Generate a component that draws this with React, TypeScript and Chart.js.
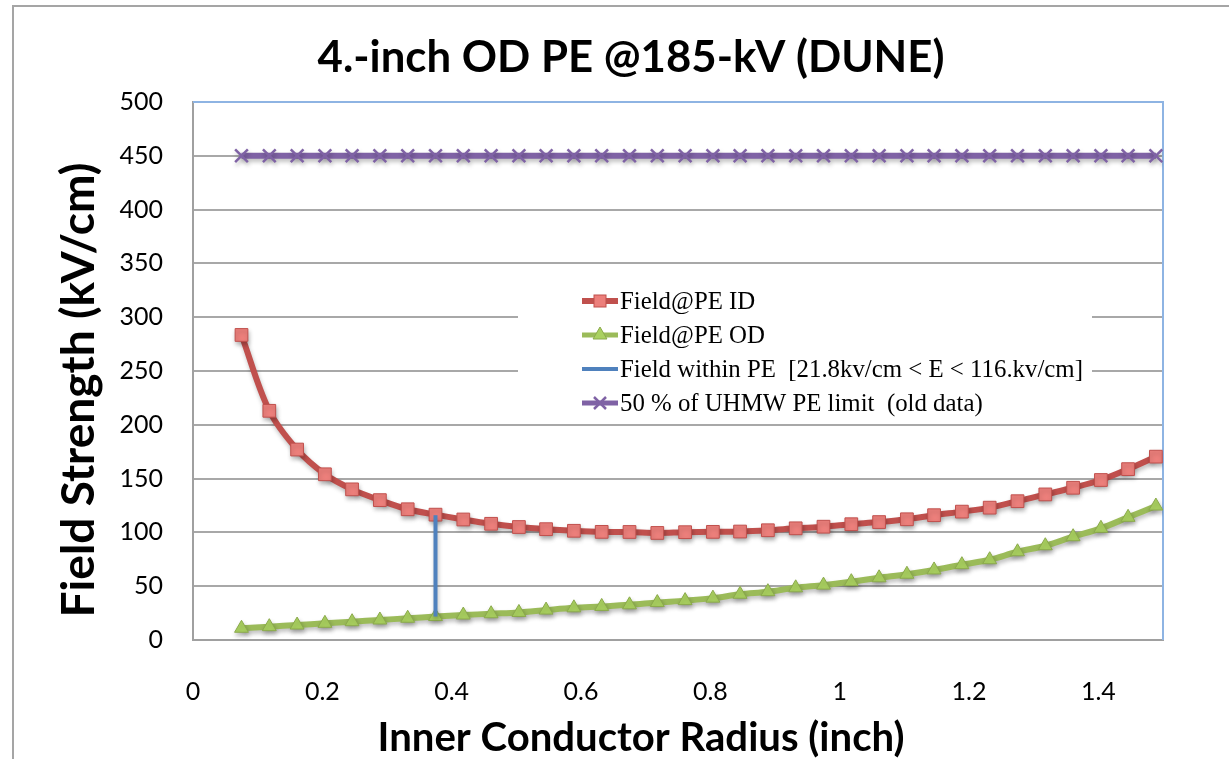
import React, { useEffect, useRef } from 'react';
import { Chart, registerables } from 'chart.js';

Chart.register(...registerables);

// ---------- data ----------
const chartTitle = '4.-inch OD PE @185-kV (DUNE)';
const xAxisTitle = 'Inner Conductor Radius (inch)';
const yAxisTitle = 'Field Strength (kV/cm)';

const seriesLabels = [
  'Field@PE ID',
  'Field@PE OD',
  'Field within PE  [21.8kv/cm < E < 116.kv/cm]',
  '50 % of UHMW PE limit  (old data)',
];

const radius = [
  0.075, 0.118, 0.161, 0.204, 0.246, 0.289, 0.332, 0.375, 0.418, 0.461, 0.504, 0.546,
  0.589, 0.632, 0.675, 0.718, 0.761, 0.804, 0.846, 0.889, 0.932, 0.975, 1.018, 1.061,
  1.104, 1.146, 1.189, 1.232, 1.275, 1.318, 1.361, 1.404, 1.446, 1.489,
];

const fieldAtID = [
  283.5, 213, 177, 154, 140, 130, 121.5, 116.5, 112, 108, 105, 103,
  101.5, 100.5, 100.4, 99.5, 100.2, 100.5, 100.8, 102, 103.8, 105.3, 107.6, 109.6,
  112.2, 116, 119.3, 123, 129, 135.3, 141.5, 148.7, 158.8, 170.4,
];

const fieldAtOD = [
  10.9, 12.4, 13.9, 15.5, 17, 18.6, 20.2, 21.8, 23.2, 24.4, 25.6, 27.8,
  29.9, 31.2, 32.7, 34.8, 36.6, 38.9, 42.5, 44.9, 48.5, 51, 54.2, 57.8,
  61.1, 65.1, 70, 74.6, 82, 87.6, 96, 103.8, 114, 124.5,
];

const withinX = [0.375, 0.375];
const withinY = [21.8, 116];

const uhmwLimit = [
  450, 450, 450, 450, 450, 450, 450, 450, 450, 450, 450, 450,
  450, 450, 450, 450, 450, 450, 450, 450, 450, 450, 450, 450,
  450, 450, 450, 450, 450, 450, 450, 450, 450, 450,
];

const xTickValues = [0, 0.2, 0.4, 0.6, 0.8, 1, 1.2, 1.4];
const xTickLabels = ['0', '0.2', '0.4', '0.6', '0.8', '1', '1.2', '1.4'];
const yTickValues = [0, 50, 100, 150, 200, 250, 300, 350, 400, 450, 500];
const yTickLabels = ['0', '50', '100', '150', '200', '250', '300', '350', '400', '450', '500'];

// ---------- styles ----------
const RED = '#C0504D';
const RED_FILL = '#EC7F7B';
const GREEN = '#9BBB59';
const GREEN_FILL = '#AAD160';
const GREEN_EDGE = '#8BAA4B';
const BLUE = '#4F81BD';
const PURPLE = '#7F62A5';
const GRID = '#a8a8a8';
const AXIS = '#a0a0a0';
const FRAME_BLUE = '#8EB4E3';
const TITLE_FONT = 'Lato';
const LEGEND_FONT = '"Liberation Serif", "Times New Roman", serif';

function fitSize(ctx: CanvasRenderingContext2D, text: string, font: (s: number) => string, target: number) {
  ctx.font = font(40);
  const w = ctx.measureText(text).width;
  return (40 * target) / w;
}

function drawMarker(ctx: CanvasRenderingContext2D, kind: string, x: number, y: number) {
  ctx.save();
  if (kind === 'rect') {
    const s = 12;
    ctx.fillStyle = RED_FILL;
    ctx.strokeStyle = RED;
    ctx.lineWidth = 1;
    ctx.fillRect(x - s / 2, y - s / 2, s, s);
    ctx.strokeRect(x - s / 2, y - s / 2, s, s);
  } else if (kind === 'triangle') {
    const r = 8;
    ctx.fillStyle = GREEN_FILL;
    ctx.strokeStyle = GREEN_EDGE;
    ctx.lineWidth = 1;
    ctx.beginPath();
    ctx.moveTo(x, y - r);
    ctx.lineTo(x + r * 0.866, y + r * 0.5);
    ctx.lineTo(x - r * 0.866, y + r * 0.5);
    ctx.closePath();
    ctx.fill();
    ctx.stroke();
  } else if (kind === 'cross') {
    const r = 6;
    ctx.strokeStyle = PURPLE;
    ctx.lineWidth = 2.5;
    ctx.beginPath();
    ctx.moveTo(x - r, y - r);
    ctx.lineTo(x + r, y + r);
    ctx.moveTo(x - r, y + r);
    ctx.lineTo(x + r, y - r);
    ctx.stroke();
  }
  ctx.restore();
}

const decorPlugin = {
  id: 'decor',
  beforeDraw(chart: any) {
    const ctx: CanvasRenderingContext2D = chart.ctx;
    ctx.save();
    ctx.fillStyle = '#ffffff';
    ctx.fillRect(0, 0, chart.width, chart.height);
    // outer frame (top and left edges visible)
    ctx.strokeStyle = '#a5a5a5';
    ctx.lineWidth = 2;
    ctx.beginPath();
    ctx.moveTo(13, chart.height);
    ctx.lineTo(13, 6);
    ctx.lineTo(chart.width, 6);
    ctx.stroke();
    ctx.restore();
  },
  beforeDatasetsDraw(chart: any) {
    const ctx: CanvasRenderingContext2D = chart.ctx;
    const a = chart.chartArea;
    ctx.save();
    // plot-area frame (top and right in light blue)
    ctx.strokeStyle = FRAME_BLUE;
    ctx.lineWidth = 2;
    ctx.beginPath();
    ctx.moveTo(a.left, a.top);
    ctx.lineTo(a.right, a.top);
    ctx.lineTo(a.right, a.bottom);
    ctx.stroke();

    // legend box
    ctx.fillStyle = '#ffffff';
    ctx.fillRect(518, 282, 574, 136);
    const size = fitSize(ctx, seriesLabels[2], (s) => `${s}px ${LEGEND_FONT}`, 463);
    ctx.font = `${size}px ${LEGEND_FONT}`;
    ctx.fillStyle = '#000000';
    ctx.textAlign = 'left';
    ctx.textBaseline = 'middle';
    const rows = [301, 335, 369, 403];
    const colors = [RED, GREEN, BLUE, PURPLE];
    const widths = [6, 5, 4, 5];
    const markers = ['rect', 'triangle', '', 'cross'];
    rows.forEach((y, i) => {
      ctx.strokeStyle = colors[i];
      ctx.lineWidth = widths[i];
      ctx.beginPath();
      ctx.moveTo(582, y);
      ctx.lineTo(618, y);
      ctx.stroke();
      if (markers[i]) drawMarker(ctx, markers[i], 600, y);
      ctx.fillStyle = '#000000';
      ctx.fillText(seriesLabels[i], 620, y + 1);
    });
    ctx.restore();
  },
  beforeDatasetDraw(chart: any) {
    const ctx: CanvasRenderingContext2D = chart.ctx;
    ctx.save();
    ctx.shadowColor = 'rgba(0,0,0,0.25)';
    ctx.shadowBlur = 4;
    ctx.shadowOffsetX = 1;
    ctx.shadowOffsetY = 3;
  },
  afterDatasetDraw(chart: any) {
    chart.ctx.restore();
  },
  afterDraw(chart: any) {
    const ctx: CanvasRenderingContext2D = chart.ctx;
    ctx.save();
    ctx.fillStyle = '#000000';
    ctx.textAlign = 'center';
    ctx.textBaseline = 'middle';
    const bold = (s: number) => `bold ${s}px ${TITLE_FONT}`;
    // chart title
    ctx.font = bold(fitSize(ctx, chartTitle, bold, 627));
    ctx.fillText(chartTitle, 631, 58);
    // x axis title
    ctx.font = bold(fitSize(ctx, xAxisTitle, bold, 527));
    ctx.fillText(xAxisTitle, 641, 738);
    // y axis title
    ctx.font = bold(fitSize(ctx, yAxisTitle, bold, 455));
    ctx.translate(79, 390);
    ctx.rotate(-Math.PI / 2);
    ctx.fillText(yAxisTitle, 0, 0);
    ctx.restore();
  },
};

const tickFont = { family: 'Lato', size: 25 };

export default function App() {
  const ref = useRef<HTMLCanvasElement | null>(null);

  useEffect(() => {
    if (!ref.current) return;
    const chart = new Chart(ref.current, {
      type: 'line',
      data: {
        datasets: [
          {
            label: seriesLabels[0],
            data: radius.map((x, i) => ({ x, y: fieldAtID[i] })),
            borderColor: RED,
            borderWidth: 6,
            tension: 0.35,
            pointStyle: 'rect',
            pointRadius: 9,
            pointBackgroundColor: RED_FILL,
            pointBorderColor: RED,
            pointBorderWidth: 1,
            order: 1,
          },
          {
            label: seriesLabels[1],
            data: radius.map((x, i) => ({ x, y: fieldAtOD[i] })),
            borderColor: GREEN,
            borderWidth: 6,
            tension: 0.35,
            pointStyle: 'triangle',
            pointRadius: 8,
            pointBackgroundColor: GREEN_FILL,
            pointBorderColor: GREEN_EDGE,
            pointBorderWidth: 1,
            order: 2,
          },
          {
            label: seriesLabels[2],
            data: withinX.map((x, i) => ({ x, y: withinY[i] })),
            borderColor: BLUE,
            borderWidth: 4,
            pointRadius: 0,
            tension: 0,
            order: 0,
          },
          {
            label: seriesLabels[3],
            data: radius.map((x, i) => ({ x, y: uhmwLimit[i] })),
            borderColor: PURPLE,
            borderWidth: 6,
            tension: 0,
            pointStyle: 'crossRot',
            pointRadius: 9,
            pointBorderColor: PURPLE,
            pointBorderWidth: 2.5,
            order: 3,
          },
        ],
      },
      options: {
        animation: false,
        responsive: false,
        devicePixelRatio: 1,
        layout: { padding: { top: 102, right: 66, left: 0, bottom: 0 } },
        plugins: {
          legend: { display: false },
          title: { display: false },
          tooltip: { enabled: false },
        },
        scales: {
          x: {
            type: 'linear',
            min: 0,
            max: 1.5,
            afterBuildTicks: (s: any) => {
              s.ticks = xTickValues.map((v) => ({ value: v }));
            },
            afterFit: (s: any) => {
              s.height = 119;
            },
            grid: { display: false, drawTicks: false },
            border: { display: true, color: AXIS, width: 2 },
            ticks: {
              autoSkip: false,
              maxRotation: 0,
              padding: 37,
              color: '#000000',
              font: tickFont,
              callback: (v: any) => {
                const i = xTickValues.findIndex((t) => Math.abs(t - Number(v)) < 1e-9);
                return i >= 0 ? xTickLabels[i] : '';
              },
            },
          },
          y: {
            type: 'linear',
            min: 0,
            max: 500,
            afterBuildTicks: (s: any) => {
              s.ticks = yTickValues.map((v) => ({ value: v }));
            },
            afterFit: (s: any) => {
              s.width = 193;
            },
            grid: {
              drawTicks: false,
              lineWidth: 2,
              color: (c: any) => (c.tick && c.tick.value === 500 ? 'rgba(0,0,0,0)' : GRID),
            },
            border: { display: true, color: AXIS, width: 2 },
            ticks: {
              padding: 30,
              color: '#000000',
              font: tickFont,
              callback: (v: any) => {
                const i = yTickValues.indexOf(Number(v));
                return i >= 0 ? yTickLabels[i] : '';
              },
            },
          },
        },
      },
      plugins: [decorPlugin],
    } as any);
    return () => chart.destroy();
  }, []);

  return (
    <div style={{ position: 'fixed', left: 0, top: 0, width: 1229, height: 759, background: '#fff' }}>
      <canvas ref={ref} width={1229} height={759} style={{ display: 'block', width: 1229, height: 759 }} />
    </div>
  );
}
